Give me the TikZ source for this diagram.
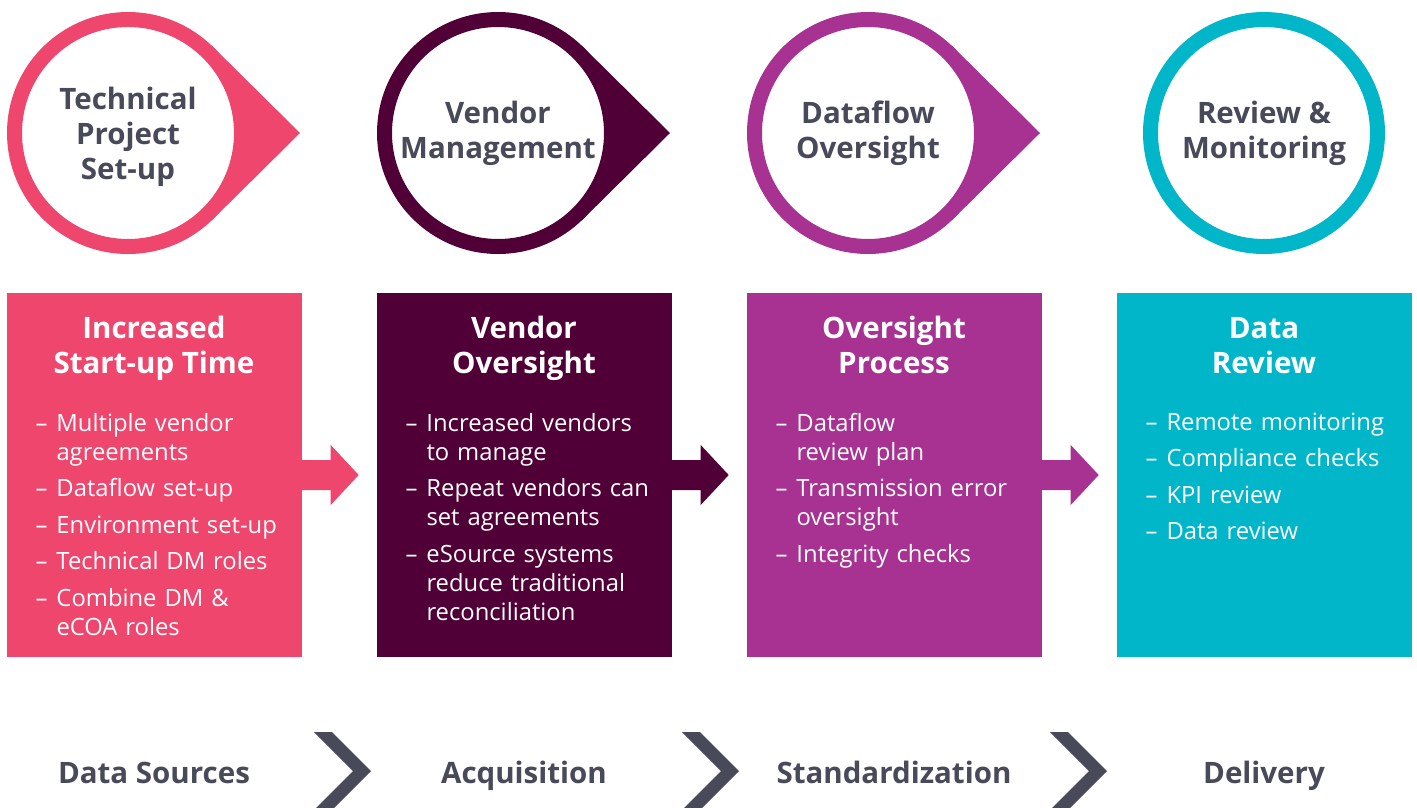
\documentclass[tikz,border=0pt]{standalone}
\usepackage{fontspec}
\setmainfont{Open Sans}
\usepackage{xcolor}
\usetikzlibrary{positioning, calc, backgrounds}
\definecolor{startpink}{RGB}{239, 70, 110}
\definecolor{vendorplum}{RGB}{80, 0, 55}
\definecolor{flowpurple}{RGB}{168, 50, 145}
\definecolor{reviewteal}{RGB}{0, 182, 200}
\definecolor{stagegray}{RGB}{72, 73, 89}

% one dash point with a hanging second line
\newcommand{\dashitem}[1]{\hangindent=21pt\hangafter=1\noindent\makebox[21pt][l]{--}#1\par}

\begin{document}
\begin{tikzpicture}[x=1pt, y=-1pt,
    ring/.style={circle, fill=white, draw=#1, line width=15pt, minimum size=227pt, inner sep=0pt,
                 align=center, text=stagegray, font=\fontsize{29.5}{35}\selectfont\bfseries},
    panel/.style={rectangle, fill=#1, minimum width=295pt, minimum height=364pt, inner sep=0pt},
    paneltitle/.style={align=center, text=white, inner sep=0pt, font=\fontsize{29.5}{35}\selectfont\bfseries},
    points/.style={anchor=north west, text width=262pt, align=left, text=white, inner sep=0pt,
                   font=\fontsize{23.8}{29}\selectfont, execute at begin node={\setlength{\parskip}{7.5pt}}},
    stage/.style={anchor=base, text=stagegray, inner sep=0pt, font=\fontsize{29.5}{35}\selectfont\bfseries}]

    \useasboundingbox (0,0) rectangle (1417,807);
    \clip (0,0) rectangle (1417,807);

    % top row: rings
    \node[ring=startpink]  (tech)    at (128,133)  {\rule{0pt}{30.5pt}Technical\\Project\\Set-up};
    \node[ring=vendorplum] (vendor)  at (498,133)  {Vendor\\Management};
    \node[ring=flowpurple] (flow)    at (868,133)  {Dataflow\\Oversight};
    \node[ring=reviewteal] (monitor) at (1264,133) {Review \&\\Monitoring};

    % pointed tips behind the rings
    \begin{scope}[on background layer]
        \fill[white] (0,0) rectangle (1417,807);
        \fill[startpink]  (tech.center)   -- (tech.46)   -- ($(tech.center)+(172,0)$)   -- (tech.-46)   -- cycle;
        \fill[vendorplum] (vendor.center) -- (vendor.46) -- ($(vendor.center)+(172,0)$) -- (vendor.-46) -- cycle;
        \fill[flowpurple] (flow.center)   -- (flow.46)   -- ($(flow.center)+(172,0)$)   -- (flow.-46)   -- cycle;
    \end{scope}

    % middle row: panels
    \node[panel=startpink]  (setup)     at (154,475)  {};
    \node[panel=vendorplum] (oversight) at (524,475)  {};
    \node[panel=flowpurple] (process)   at (894,475)  {};
    \node[panel=reviewteal] (review)    at (1264,475) {};

    \node[paneltitle, below=23pt of setup.north]     (setuptitle)     {Increased\\Start-up Time};
    \node[paneltitle, below=23pt of oversight.north] (oversighttitle) {Vendor\\Oversight};
    \node[paneltitle, below=23pt of process.north]   (processtitle)   {Oversight\\Process};
    \node[paneltitle, below=24pt of review.north]    (reviewtitle)    {Data\\Review};

    \node[points, below right=120pt and 29pt of setup.north west] (setuppoints) {%
        \dashitem{Multiple vendor\newline agreements}
        \dashitem{Dataflow set-up}
        \dashitem{Environment set-up}
        \dashitem{Technical DM roles}
        \dashitem{Combine DM \&\newline eCOA roles}};
    \node[points, below right=120pt and 29pt of oversight.north west] (oversightpoints) {%
        \dashitem{Increased vendors\newline to manage}
        \dashitem{Repeat vendors can\newline set agreements}
        \dashitem{eSource systems\newline reduce traditional\newline reconciliation}};
    \node[points, below right=120pt and 29pt of process.north west] (processpoints) {%
        \dashitem{Dataflow\newline review plan}
        \dashitem{Transmission error\newline oversight}
        \dashitem{Integrity checks}};
    \node[points, below right=120pt and 29pt of review.north west] (reviewpoints) {%
        \dashitem{Remote monitoring}
        \dashitem{Compliance checks}
        \dashitem{KPI review}
        \dashitem{Data review}};

    % block arrows between panels
    \foreach \from/\col in {setup/startpink, oversight/vendorplum, process/flowpurple}
        \fill[\col] (\from.east) ++(0,-15) -- ++(29,0) -- ++(0,-15) -- ++(28,30)
                    -- ++(-28,30) -- ++(0,-15) -- ++(-29,0) -- cycle;

    % bottom row: stages
    \node[stage] (sources)     at (154,783)  {Data Sources};
    \node[stage] (acquisition) at (524,783)  {Acquisition};
    \node[stage] (standard)    at (894,783)  {Standardization};
    \node[stage] (delivery)    at (1264,783) {Delivery};

    \foreach \x in {314, 682, 1050}
        \fill[stagegray] (\x,732) -- ++(18,0) -- ++(39,39) -- ++(-39,39) -- ++(-18,0) -- ++(39,-39) -- cycle;
\end{tikzpicture}
\end{document}
